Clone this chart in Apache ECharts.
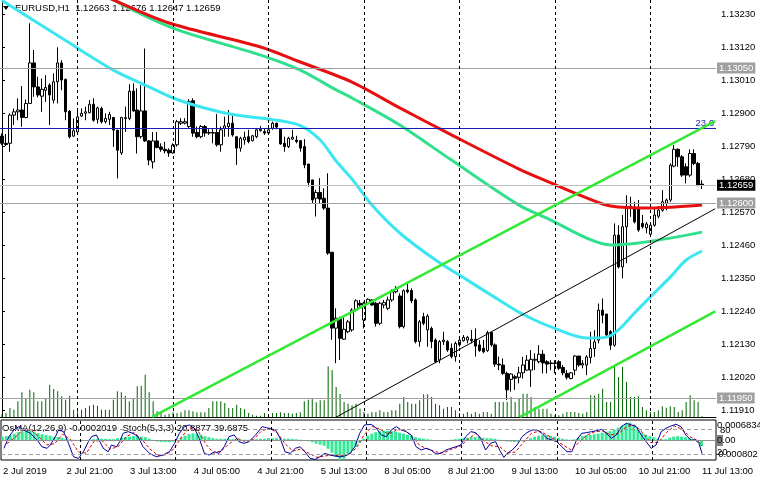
<!DOCTYPE html>
<html><head><meta charset="utf-8">
<script src="https://cdn.jsdelivr.net/npm/echarts/dist/echarts.min.js"></script>
<style>html,body{margin:0;padding:0;background:#fff}#c{width:760px;height:483px}</style>
</head><body><div id="c"></div>
<script>
// ---------- DATA ----------
const symbolTitle = 'EURUSD,H1  1.12663 1.12676 1.12647 1.12659';
const indicatorTitle = 'OsMA(12,26,9) -0.0002019  Stoch(5,3,3) 20.8877 39.6875';
const days = [['2 Jul',5,23],['3 Jul',0,23],['4 Jul',0,23],['5 Jul',0,23],['8 Jul',0,23],['9 Jul',0,23],['10 Jul',0,23],['11 Jul',0,13]];
const firstLabel = '2 Jul 2019';
const priceTicks = [1.1191,1.1202,1.1213,1.1224,1.1235,1.1246,1.1257,1.1268,1.1279,1.1290,1.1301,1.1312,1.1323];
const priceMin = 1.118867, priceMax = 1.132767;
// [open, close, low, high]
const ohlc = [
[1.12823,1.12799,1.12793,1.12832],[1.12799,1.12795,1.12790,1.12830],[1.12799,1.12893,1.12771,1.12899],[1.12893,1.12904,1.12860,1.12915],
[1.12904,1.12910,1.12876,1.12949],[1.12910,1.12885,1.12854,1.12990],[1.12885,1.12932,1.12882,1.12945],[1.12932,1.13067,1.12930,1.13199],
[1.13067,1.12987,1.12954,1.13110],[1.12987,1.12960,1.12952,1.13021],[1.12956,1.12979,1.12904,1.13015],[1.12976,1.12985,1.12937,1.13026],
[1.12993,1.12960,1.12860,1.12999],[1.12943,1.13004,1.12932,1.13032],[1.13004,1.13067,1.12932,1.13119],[1.13067,1.13010,1.12976,1.13076],
[1.13012,1.12904,1.12876,1.13015],[1.12906,1.12821,1.12815,1.12910],[1.12823,1.12841,1.12821,1.12882],[1.12837,1.12887,1.12832,1.12910],
[1.12890,1.12899,1.12887,1.12915],[1.12899,1.12904,1.12876,1.12921],[1.12901,1.12929,1.12899,1.12943],[1.12929,1.12876,1.12871,1.12949],
[1.12879,1.12917,1.12865,1.12921],[1.12915,1.12871,1.12865,1.12921],[1.12871,1.12882,1.12865,1.12899],[1.12879,1.12895,1.12860,1.12904],
[1.12885,1.12843,1.12787,1.12887],[1.12843,1.12776,1.12682,1.12843],[1.12767,1.12885,1.12760,1.12887],[1.12884,1.12882,1.12837,1.12921],
[1.12882,1.12973,1.12876,1.12996],[1.12973,1.12907,1.12904,1.12999],[1.12910,1.12821,1.12765,1.12982],[1.12821,1.12907,1.12815,1.12993],
[1.12907,1.12807,1.12804,1.13115],[1.12807,1.12743,1.12726,1.12810],[1.12737,1.12807,1.12715,1.12837],[1.12807,1.12785,1.12782,1.12837],
[1.12787,1.12779,1.12771,1.12799],[1.12779,1.12774,1.12765,1.12804],[1.12776,1.12767,1.12754,1.12782],[1.12767,1.12793,1.12765,1.12799],
[1.12794,1.12871,1.12788,1.12877],[1.12866,1.12871,1.12860,1.12883],[1.12866,1.12871,1.12862,1.12883],[1.12855,1.12938,1.12849,1.12946],
[1.12941,1.12833,1.12821,1.12949],[1.12835,1.12821,1.12816,1.12855],[1.12821,1.12855,1.12816,1.12860],[1.12855,1.12833,1.12821,1.12860],
[1.12835,1.12833,1.12827,1.12846],[1.12833,1.12835,1.12799,1.12846],[1.12835,1.12794,1.12788,1.12897],[1.12794,1.12844,1.12771,1.12855],
[1.12849,1.12857,1.12821,1.12888],[1.12855,1.12866,1.12821,1.12910],[1.12866,1.12827,1.12821,1.12899],[1.12821,1.12783,1.12727,1.12821],
[1.12783,1.12816,1.12771,1.12821],[1.12810,1.12819,1.12794,1.12838],[1.12821,1.12805,1.12799,1.12844],[1.12808,1.12824,1.12805,1.12827],
[1.12821,1.12844,1.12816,1.12849],[1.12841,1.12846,1.12838,1.12857],[1.12838,1.12833,1.12827,1.12849],[1.12833,1.12844,1.12827,1.12860],
[1.12849,1.12866,1.12844,1.12871],[1.12866,1.12853,1.12846,1.12868],[1.12846,1.12797,1.12794,1.12849],[1.12799,1.12788,1.12771,1.12821],
[1.12788,1.12816,1.12783,1.12821],[1.12813,1.12819,1.12810,1.12844],[1.12810,1.12805,1.12799,1.12824],[1.12808,1.12783,1.12771,1.12810],
[1.12788,1.12727,1.12716,1.12813],[1.12730,1.12668,1.12655,1.12730],[1.12677,1.12610,1.12599,1.12677],[1.12616,1.12635,1.12555,1.12644],
[1.12635,1.12613,1.12599,1.12683],[1.12616,1.12583,1.12577,1.12649],[1.12583,1.12433,1.12427,1.12699],[1.12436,1.12183,1.12144,1.12436],
[1.12183,1.12216,1.12066,1.12249],[1.12213,1.12149,1.12077,1.12221],[1.12146,1.12179,1.12144,1.12221],[1.12171,1.12204,1.12166,1.12210],
[1.12177,1.12243,1.12171,1.12249],[1.12243,1.12274,1.12238,1.12279],[1.12266,1.12260,1.12254,1.12277],[1.12210,1.12266,1.12182,1.12271],
[1.12266,1.12279,1.12260,1.12282],[1.12277,1.12260,1.12257,1.12279],[1.12266,1.12199,1.12188,1.12271],[1.12199,1.12266,1.12193,1.12271],
[1.12260,1.12268,1.12249,1.12277],[1.12249,1.12277,1.12243,1.12288],[1.12277,1.12304,1.12271,1.12312],[1.12304,1.12312,1.12299,1.12323],
[1.12290,1.12188,1.12182,1.12299],[1.12188,1.12308,1.12182,1.12312],[1.12310,1.12304,1.12299,1.12330],[1.12308,1.12274,1.12266,1.12316],
[1.12277,1.12138,1.12132,1.12282],[1.12138,1.12204,1.12121,1.12210],[1.12221,1.12199,1.12193,1.12234],[1.12177,1.12223,1.12121,1.12230],
[1.12182,1.12138,1.12116,1.12188],[1.12143,1.12071,1.12066,1.12149],[1.12077,1.12138,1.12066,1.12143],[1.12138,1.12143,1.12127,1.12171],
[1.12138,1.12110,1.12104,1.12143],[1.12116,1.12088,1.12082,1.12132],[1.12088,1.12132,1.12071,1.12138],[1.12127,1.12143,1.12121,1.12157],
[1.12141,1.12152,1.12138,1.12160],[1.12143,1.12152,1.12132,1.12157],[1.12146,1.12141,1.12132,1.12177],[1.12146,1.12123,1.12088,1.12182],
[1.12127,1.12108,1.12104,1.12143],[1.12116,1.12104,1.12099,1.12143],[1.12108,1.12168,1.12104,1.12174],[1.12168,1.12127,1.12121,1.12171],
[1.12127,1.12063,1.12054,1.12132],[1.12063,1.12060,1.12043,1.12088],[1.12060,1.12032,1.12027,1.12082],[1.12032,1.11977,1.11943,1.12038],
[1.12012,1.12030,1.11971,1.12032],[1.12021,1.12016,1.11977,1.12027],[1.12019,1.12034,1.11999,1.12054],[1.12034,1.12060,1.12015,1.12087],
[1.12043,1.12076,1.12041,1.12093],[1.12043,1.12079,1.11987,1.12110],[1.12076,1.12079,1.12043,1.12099],[1.12071,1.12096,1.12065,1.12126],
[1.12096,1.12067,1.12032,1.12110],[1.12071,1.12063,1.12032,1.12076],[1.12067,1.12065,1.12043,1.12076],[1.12065,1.12067,1.12032,1.12076],
[1.12071,1.12049,1.12043,1.12076],[1.12052,1.12034,1.12026,1.12060],[1.12032,1.12019,1.12012,1.12043],[1.12015,1.12034,1.12012,1.12037],
[1.12043,1.12090,1.12026,1.12093],[1.12090,1.12060,1.12054,1.12090],[1.12060,1.12065,1.12049,1.12076],[1.12060,1.12087,1.12026,1.12093],
[1.12085,1.12115,1.12065,1.12171],[1.12115,1.12137,1.12087,1.12176],[1.12143,1.12243,1.12132,1.12265],[1.12243,1.12226,1.12199,1.12282],
[1.12230,1.12160,1.12154,1.12230],[1.12171,1.12126,1.12110,1.12176],[1.12126,1.12493,1.12121,1.12532],[1.12493,1.12387,1.12382,1.12526],
[1.12387,1.12521,1.12349,1.12560],[1.12521,1.12587,1.12399,1.12626],[1.12582,1.12590,1.12554,1.12621],[1.12587,1.12537,1.12532,1.12604],
[1.12582,1.12510,1.12504,1.12610],[1.12532,1.12521,1.12515,1.12560],[1.12517,1.12530,1.12499,1.12537],[1.12496,1.12526,1.12493,1.12532],
[1.12526,1.12560,1.12521,1.12582],[1.12556,1.12576,1.12549,1.12590],[1.12576,1.12604,1.12571,1.12643],[1.12599,1.12610,1.12576,1.12615],
[1.12610,1.12726,1.12604,1.12732],[1.12723,1.12779,1.12719,1.12793],[1.12779,1.12754,1.12721,1.12782],[1.12754,1.12693,1.12687,1.12760],
[1.12721,1.12693,1.12665,1.12732],[1.12693,1.12765,1.12687,1.12779],[1.12765,1.12732,1.12726,1.12779],[1.12732,1.12660,1.12656,1.12737],
[1.12663,1.12659,1.12647,1.12676]
];
const volume = [300,400,900,730,1570,2470,1900,2730,2470,1570,1570,1830,3230,2800,2570,2070,1730,2130,730,570,
730,900,1130,1230,1130,730,730,730,1730,2570,2470,2130,1570,1830,3070,3130,4230,2470,1570,570,
400,230,330,470,400,470,670,670,570,470,470,470,900,1570,1570,1570,1400,900,900,1230,
900,800,400,230,130,130,400,230,400,400,470,400,400,330,400,470,1570,1730,1900,1470,
1670,1670,5070,4700,3000,2300,1500,1330,1170,1330,830,500,330,500,500,670,500,500,670,670,
1330,2000,1500,1330,1330,1670,2270,2270,2000,1330,1170,830,1000,1000,670,400,330,500,330,500,
330,500,500,330,1500,1500,1500,1500,2000,1500,1830,2330,2330,2000,1000,830,830,830,330,170,
170,330,500,500,500,400,330,500,2170,2170,2330,2830,1500,1500,5170,4000,5000,3500,2000,2000,
2070,1000,670,500,500,670,1070,930,1070,1000,500,670,1500,2170,1670,1500,70];
const volumeMax = 41700;
// moving averages, [candle index, price]
const maFast = [[0,1.13275],[3,1.13250],[15,1.13150],[28,1.13043],[36,1.12993],[43,1.12950],[50,1.12920],[58,1.12895],[68,1.12878],[75,1.12858],[80,1.12810],[84,1.12740],[88,1.12680],[93,1.12593],[100,1.12500],[109,1.12410],[117,1.12343],[123,1.12293],[130,1.12236],[138,1.12187],[147,1.12150],[152,1.12153],[155,1.12177],[159,1.12233],[163,1.12287],[168,1.12353],[172,1.12410],[176,1.12440]];
const maMid = [[22,1.13330],[28,1.13277],[43,1.13183],[65,1.13093],[75,1.13043],[84,1.12977],[88,1.12950],[100,1.12860],[113,1.12743],[130,1.12593],[138,1.12543],[147,1.12483],[153,1.12460],[160,1.12467],[168,1.12483],[176,1.12503]];
const maSlow = [[20,1.13330],[28,1.13277],[42,1.13200],[65,1.13120],[75,1.13070],[88,1.13003],[100,1.12917],[113,1.12827],[130,1.12713],[138,1.12667],[147,1.12617],[153,1.12590],[163,1.12583],[176,1.12593]];
// trend lines [index, price] pairs
const channelUpper = [[37.75,1.11887],[179.3,1.12873]];
const channelLower = [[130.25,1.11887],[179.3,1.12239]];
const channelMid = [[82.75,1.11877],[179.3,1.12581]];
// horizontal levels
const levelGray = [1.13050, 1.12600, 1.11950];
const levelFibo = 1.12850, fiboText = '23.6';
const bidPrice = 1.12659;
// indicator
const osma = [0.000145,0.000163,0.000199,0.000253,0.000308,0.000344,0.000380,0.000362,0.000326,0.000272,0.000235,0.000199,0.000181,0.000145,0.000127,0.000109,0.000072,0.000054,0.000036,0.000018,
0.000011,0.000018,0.000036,0.000054,0.000072,0.000072,0.000065,0.000054,0.000054,0.000091,0.000109,0.000127,0.000145,0.000163,0.000163,0.000145,0.000127,0.000072,0.000018,-0.000029,
-0.000047,-0.000054,-0.000054,-0.000036,0.000036,0.000109,0.000181,0.000235,0.000264,0.000253,0.000217,0.000163,0.000127,0.000091,0.000072,0.000072,0.000072,0.000072,0.000054,0.000054,
0.000043,0.000036,0.000036,0.000047,0.000054,0.000072,0.000072,0.000091,0.000091,0.000091,0.000072,0.000072,0.000072,0.000065,0.000054,0.000036,0.000018,-0.000018,-0.000054,-0.000109,
-0.000145,-0.000181,-0.000290,-0.000434,-0.000579,-0.000688,-0.000652,-0.000507,-0.000362,-0.000217,-0.000072,0.000072,0.000181,0.000253,0.000308,0.000344,0.000362,0.000362,0.000344,0.000326,
0.000290,0.000253,0.000217,0.000181,0.000127,0.000091,0.000072,0.000054,0.000036,0.000018,0.000011,0.000011,0.000018,0.000036,0.000054,0.000072,0.000091,0.000109,0.000127,0.000127,
0.000127,0.000109,0.000091,0.000091,0.000072,0.000036,0.000000,-0.000029,-0.000036,-0.000047,-0.000036,-0.000018,0.000036,0.000091,0.000145,0.000181,0.000199,0.000199,0.000181,0.000145,
0.000109,0.000072,0.000047,0.000036,0.000047,0.000109,0.000163,0.000199,0.000217,0.000235,0.000253,0.000290,0.000326,0.000344,0.000398,0.000471,0.000543,0.000615,0.000652,0.000579,
0.000434,0.000290,0.000217,0.000163,0.000127,0.000072,0.000047,0.000054,0.000109,0.000145,0.000163,0.000145,0.000127,0.000091,0.000054,-0.000036,-0.000202];
const stochK = [[0.25,33.7],[1.5,62.1],[2.75,78.4],[4,86.5],[5.25,78.4],[6.9,70.2],[8.6,54],[9.8,37.7],[11.1,33.7],[11.9,41.8],[13.2,62.1],[14,78.4],[15.25,74.3],[16.5,45.9],[17.75,13.3],[19,9.3],[20.25,25.5],[21.5,49.9],[22.3,62.1],[23.5,66.2],[24.4,49.9],[25.25,33.7],[26.5,25.5],[27.3,41.8],[28.6,37.7],[29.4,49.9],[30.25,70.2],[31.5,74.3],[32.75,70.2],[34,62.1],[35.25,37.7],[36.9,21.5],[38.6,13.3],[40.25,17.4],[41.9,25.5],[43.2,45.9],[44.4,70.2],[45.7,86.5],[46.9,90.6],[48.2,82.4],[49.4,58],[50.7,21.5],[51.9,17.4],[53.2,25.5],[54.4,21.5],[55.7,37.7],[56.9,62.1],[58.2,66.2],[59.4,49.9],[60.7,45.9],[61.9,49.9],[63.6,66.2],[65.25,86.5],[66.9,82.4],[68.6,78.4],[69.8,58],[71,25.5],[72.3,21.5],[73.6,33.7],[74.8,37.7],[76,25.5],[77.3,9.3],[78.6,6.8],[79.8,13.3],[81,21.5],[82.3,17.4],[83.6,15],[84.8,13.3],[86,15],[87.3,21.5],[88.6,37.7],[89.8,70.2],[91,90.6],[92.75,92],[94,82.4],[95.25,66.2],[96.5,62.1],[97.75,78.4],[99,86.5],[100.25,78.4],[101.5,74.3],[102.75,66.2],[104,37.7],[105.25,29.6],[106.5,33.7],[107.75,29.6],[109,19.8],[110.25,21.5],[111.5,29.6],[112.75,33.7],[114,37.7],[115.25,41.8],[116.5,62.1],[117.75,74.3],[119,71.9],[120.25,58],[121.5,29.6],[122.75,45.9],[124,49.9],[125.25,25.5],[126.1,11.7],[126.9,21.5],[128.2,29.6],[129.4,41.8],[130.7,62.1],[131.9,71.9],[133.2,78.4],[134.4,78.4],[135.7,70.2],[136.9,58],[138.2,54],[139.4,49.9],[140.7,37.7],[142,25.5],[143.2,25.5],[144.4,54],[145.7,70.2],[146.9,71.9],[148.2,74.3],[149.4,76.7],[150.7,80],[151.9,70.2],[153.2,58],[154.4,66.2],[155.7,86.5],[156.9,94.6],[158.2,90.6],[159.4,86.5],[160.7,66.2],[161.9,49.9],[163.2,33.7],[164.4,41.8],[165.7,74.3],[166.9,82.4],[168.2,88.1],[169.4,92.2],[170.7,86.5],[171.9,66.2],[173.2,54],[174.4,54],[175.2,45.9],[176,20.9]];
const stochD = [[1,45],[3,60],[5,78],[7,78],[9,62],[11,42],[13,45],[15,68],[17,55],[19,25],[21,22],[23,52],[25,52],[27,32],[29,38],[31,62],[33,72],[35,55],[37,32],[39,17],[41,18],[43,32],[45,62],[47,84],[49,78],[51,45],[53,22],[55,28],[57,45],[59,58],[61,50],[63,55],[65,75],[67,83],[69,72],[71,45],[73,27],[75,32],[77,22],[79,12],[81,15],[83,18],[85,15],[87,18],[89,35],[91,68],[93,87],[95,80],[97,68],[99,78],[101,80],[103,62],[105,40],[107,32],[109,25],[111,23],[113,32],[115,38],[117,55],[119,70],[121,52],[123,40],[125,38],[127,22],[129,25],[131,48],[133,70],[135,76],[137,66],[139,54],[141,42],[143,30],[145,48],[147,66],[149,74],[151,76],[153,66],[155,70],[157,87],[159,90],[161,72],[163,48],[165,48],[167,72],[169,88],[171,80],[173,62],[175,52],[176,39.7]];
const stochLevels = [80, 20];
const indLabels = {top:'0.0006834', zero:'0.00', bottom:'-0.000802', hi:'80', lo:'20'};

// ---------- BUILD ----------
const times = [];
days.forEach(([d,a,b]) => { for (let h=a; h<=b; h++) times.push(d + ' ' + String(h).padStart(2,'0') + ':00'); });
const cats = times.concat([' ', '  ', '   ']);
const nCat = cats.length;
const daySeps = times.map((t,i) => t.endsWith(' 00:00') ? i : -1).filter(i => i >= 0);

const FONT = 'Liberation Sans';
const GL = -3, GW = 719;
const chart = echarts.init(document.getElementById('c'));

const sepStyle = {color:'#000', type:[3,3], width:1};
const sepLine = {symbol:['none','none'], silent:true, label:{show:false},
  lineStyle:sepStyle, data: daySeps.map(i => ({xAxis:i}))};

function boxLabel(text, bg) {
  return {show:true, position:'end', formatter:text, color:'#fff', backgroundColor:bg,
    padding:[1,2,0,2], fontSize:9.5, fontFamily:FONT, distance:1};
}
const hLines = [];
levelGray.forEach(v => hLines.push({yAxis:v, lineStyle:{color:'#a0a0a0', width:1, type:'solid'},
  label: boxLabel(v.toFixed(5), '#a0a0a0')}));
hLines.push({yAxis:bidPrice, lineStyle:{color:'#c0c0c0', width:1, type:'solid'}, label: boxLabel(bidPrice.toFixed(5), '#000')});
hLines.push({yAxis:levelFibo, lineStyle:{color:'#1c1cb4', width:1, type:'solid'},
  label:{show:true, position:'insideEndTop', formatter:fiboText, color:'#1c1cb4', fontSize:9.5, fontFamily:FONT, distance:[2,0], padding:0}});
hLines.push({yAxis:levelFibo, lineStyle:{opacity:0}, label: boxLabel(levelFibo.toFixed(5), '#a0a0a0')});

const maLine = (data, color) => ({type:'line', xAxisIndex:2, yAxisIndex:0, data, showSymbol:false, smooth:0.3,
  lineStyle:{color, width:3}, z:4, silent:true});

const option = {
  animation:false,
  backgroundColor:'#fff',
  grid:[
    {left:GL, top:0, width:GW, height:417, containLabel:false},
    {left:GL, top:420, width:GW, height:40, containLabel:false, show:true, borderColor:'#000', borderWidth:1, backgroundColor:'transparent'}
  ],
  xAxis:[
    {type:'category', gridIndex:0, data:cats, boundaryGap:true, axisLine:{show:true, lineStyle:{color:'#000'}}, axisTick:{show:false}, axisLabel:{show:false}, splitLine:{show:false}},
    {type:'category', gridIndex:1, data:cats, boundaryGap:true, axisLine:{show:false}, axisTick:{show:false}, splitLine:{show:false},
      axisLabel:{show:true, interval:15, align:'left', margin:6, fontSize:9.5, fontFamily:FONT, color:'#000',
        formatter:(v, idx) => idx === 0 ? firstLabel : v}},
    {type:'value', gridIndex:0, min:-0.5, max:nCat-0.5, show:false},
    {type:'value', gridIndex:1, min:-0.5, max:nCat-0.5, show:false}
  ],
  yAxis:[
    {type:'value', gridIndex:0, position:'right', min:priceMin, max:priceMax, scale:true,
      axisLine:{show:true, lineStyle:{color:'#000'}}, splitLine:{show:false},
      axisTick:{show:true, length:3, lineStyle:{color:'#000'}, customValues:priceTicks},
      axisLabel:{show:true, customValues:priceTicks, formatter:v => v.toFixed(5), margin:5, fontSize:9.5, fontFamily:FONT, color:'#000'}},
    {type:'value', gridIndex:0, min:0, max:volumeMax, show:false},
    {type:'value', gridIndex:1, min:5.4, max:102.6, show:false},
    {type:'value', gridIndex:1, min:-0.000699, max:0.000749, show:false}
  ],
  graphic:[
    {type:'polygon', shape:{points:[[3,6],[9,6],[6,10]]}, style:{fill:'#000'}, z:0},
    {type:'text', x:15, y:8.5, style:{text:symbolTitle, font:'9.5px "'+FONT+'"', fill:'#000', textVerticalAlign:'middle'}, z:0},
    {type:'text', x:2, y:428.5, style:{text:indicatorTitle, font:'9.5px "'+FONT+'"', fill:'#000', textVerticalAlign:'middle'}, z:0},
    {type:'text', x:717, y:425.5, style:{text:indLabels.top, font:'9.5px "'+FONT+'"', fill:'#000', textVerticalAlign:'middle'}, z:0},
    {type:'text', x:720, y:430.5, style:{text:indLabels.hi, font:'9.5px "'+FONT+'"', fill:'#000', textVerticalAlign:'middle'}, z:0},
    {type:'rect', shape:{x:717, y:435, width:6, height:11}, style:{fill:'#808080'}, z:0},
    {type:'text', x:717, y:440.7, style:{text:indLabels.zero, font:'9.5px "'+FONT+'"', fill:'#000', textVerticalAlign:'middle'}, z:1},
    {type:'text', x:715, y:454.8, style:{text:indLabels.bottom, font:'9.5px "'+FONT+'"', fill:'#000', textVerticalAlign:'middle'}, z:0},
    {type:'text', x:717, y:452.5, style:{text:indLabels.lo, font:'9.5px "'+FONT+'"', fill:'#000', textVerticalAlign:'middle'}, z:1}
  ],
  series:[
    {type:'bar', name:'vol', xAxisIndex:0, yAxisIndex:1, data:volume, barWidth:1, itemStyle:{color:'#006400'}, silent:true, z:1},
    {type:'candlestick', name:'price', xAxisIndex:0, yAxisIndex:0, data:ohlc, barWidth:3, z:3,
      itemStyle:{color:'#fff', color0:'#000', borderColor:'#000', borderColor0:'#000', borderWidth:1},
      markLine:{symbol:['none','none'], silent:true, precision:5,
        data: hLines.concat(daySeps.map(i => ({xAxis:i, lineStyle:sepStyle, label:{show:false}})))}},
    maLine(maFast, '#3ce6f0'),
    maLine(maMid, '#30e08c'),
    maLine(maSlow, '#e61010'),
    {type:'line', xAxisIndex:2, yAxisIndex:0, data:channelUpper, showSymbol:false, lineStyle:{color:'#33e833', width:2.5}, z:5, silent:true},
    {type:'line', xAxisIndex:2, yAxisIndex:0, data:channelLower, showSymbol:false, lineStyle:{color:'#33e833', width:2.5}, z:5, silent:true},
    {type:'line', xAxisIndex:2, yAxisIndex:0, data:channelMid, showSymbol:false, lineStyle:{color:'#000', width:1}, z:5, silent:true},
    {type:'bar', xAxisIndex:1, yAxisIndex:3, data:osma, barWidth:3, itemStyle:{color:'#33e896'}, z:2, silent:true,
      markLine:{symbol:['none','none'], silent:true, label:{show:false}, data:[{yAxis:0, lineStyle:{color:'#909090', width:1, type:'solid'}}]}},
    {type:'line', xAxisIndex:3, yAxisIndex:2, data:stochD, showSymbol:false, lineStyle:{color:'#e00000', width:1, type:[3,2]}, z:3, silent:true,
      markLine:{symbol:['none','none'], silent:true, label:{show:false},
        data: stochLevels.map(v => ({yAxis:v, lineStyle:{color:'#a0a0a0', width:1, type:[4,3]}}))}},
    {type:'line', xAxisIndex:3, yAxisIndex:2, data:stochK, showSymbol:false, lineStyle:{color:'#0000a0', width:1}, z:4, silent:true},
    {type:'bar', xAxisIndex:1, yAxisIndex:3, data:[], z:1, markLine:sepLine}
  ]
};
chart.setOption(option);
</script></body></html>
